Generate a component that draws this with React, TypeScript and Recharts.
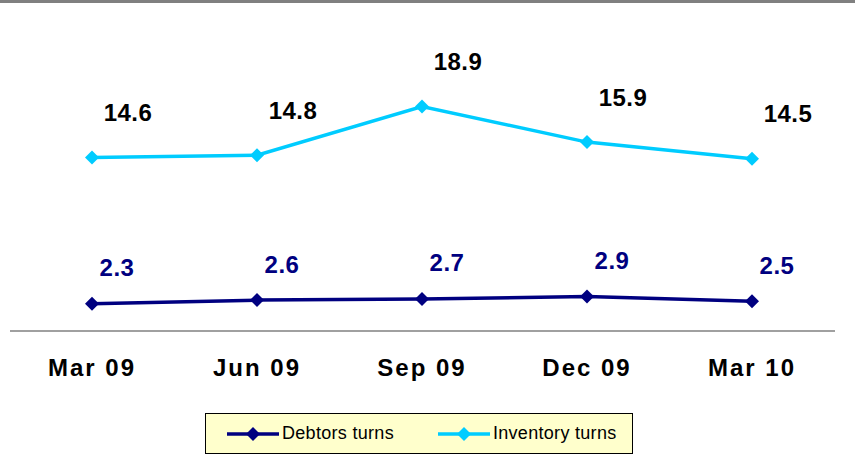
import React from 'react';
import { LineChart, Line, XAxis, YAxis, Legend, LabelList } from 'recharts';

const quarters = ['Mar 09', 'Jun 09', 'Sep 09', 'Dec 09', 'Mar 10'];
const debtorsTurns = [2.3, 2.6, 2.7, 2.9, 2.5];
const inventoryTurns = [14.6, 14.8, 18.9, 15.9, 14.5];

const NAVY = '#000080';
const CYAN = '#00CCFF';
const FONT = 'Arial, "Liberation Sans", Helvetica, sans-serif';

const data = quarters.map((q, i) => ({
  quarter: q,
  debtors: debtorsTurns[i],
  inventory: inventoryTurns[i],
}));

const Diamond = (props: any) => {
  const { cx, cy, fill } = props;
  if (cx == null || cy == null) return null;
  const r = 7;
  return (
    <path
      d={`M${cx},${cy - r} L${cx + r},${cy} L${cx},${cy + r} L${cx - r},${cy} Z`}
      fill={fill}
      stroke="none"
    />
  );
};

const makeLabel = (color: string, dx: number, dy: number) => (props: any) => {
  const { x, y, value } = props;
  return (
    <text
      x={x + dx}
      y={y + dy}
      textAnchor="middle"
      dominantBaseline="central"
      fill={color}
      fontFamily={FONT}
      fontWeight="bold"
      fontSize={24}
      letterSpacing={0.5}
    >
      {value}
    </text>
  );
};

const QuarterTick = (props: any) => {
  const { x, y, payload } = props;
  return (
    <text
      x={x}
      y={y + 37}
      textAnchor="middle"
      fill="#000"
      fontFamily={FONT}
      fontWeight="bold"
      fontSize={24}
      letterSpacing={2}
    >
      {payload.value}
    </text>
  );
};

const LegendItem = ({ color, label }: { color: string; label: string }) => (
  <div style={{ display: 'flex', alignItems: 'center' }}>
    <svg width={56} height={16} style={{ marginRight: 1 }}>
      <line x1={2} y1={8} x2={54} y2={8} stroke={color} strokeWidth={3.5} />
      <path d="M28,1 L35,8 L28,15 L21,8 Z" fill={color} />
    </svg>
    <span style={{ fontSize: 18, letterSpacing: 0.3, color: '#000' }}>{label}</span>
  </div>
);

const renderLegend = () => (
  <div
    style={{
      boxSizing: 'border-box',
      width: 428,
      height: 41,
      background: '#FFFFCC',
      border: '1px solid #000',
      display: 'flex',
      alignItems: 'center',
      gap: 42,
      paddingLeft: 19,
      fontFamily: FONT,
    }}
  >
    <LegendItem color={NAVY} label="Debtors turns" />
    <LegendItem color={CYAN} label="Inventory turns" />
  </div>
);

export default function App() {
  return (
    <div
      style={{
        position: 'absolute',
        left: 0,
        top: 0,
        width: 855,
        height: 471,
        background: '#fff',
        overflow: 'hidden',
      }}
    >
      <div style={{ position: 'absolute', left: 0, top: 0, width: 855, height: 3, background: '#808080' }} />
      <LineChart
        width={855}
        height={471}
        data={data}
        margin={{ top: 34, right: 20, bottom: 0, left: 10 }}
      >
        <XAxis
          dataKey="quarter"
          height={99}
          padding={{ left: 82, right: 83 }}
          axisLine={{ stroke: '#808080', strokeWidth: 1.5 }}
          tickLine={false}
          tick={<QuarterTick />}
          interval={0}
        />
        <YAxis hide width={0} domain={[0, 25]} />
        <Legend
          content={renderLegend}
          wrapperStyle={{ position: 'absolute', left: 205, top: 413, width: 428, height: 41 }}
        />
        <Line
          dataKey="debtors"
          name="Debtors turns"
          stroke={NAVY}
          strokeWidth={3.5}
          dot={<Diamond fill={NAVY} />}
          activeDot={false}
          isAnimationActive={false}
        >
          <LabelList dataKey="debtors" content={makeLabel(NAVY, 25, -36)} />
        </Line>
        <Line
          dataKey="inventory"
          name="Inventory turns"
          stroke={CYAN}
          strokeWidth={3.5}
          dot={<Diamond fill={CYAN} />}
          activeDot={false}
          isAnimationActive={false}
        >
          <LabelList dataKey="inventory" content={makeLabel('#000', 36, -45)} />
        </Line>
      </LineChart>
    </div>
  );
}
